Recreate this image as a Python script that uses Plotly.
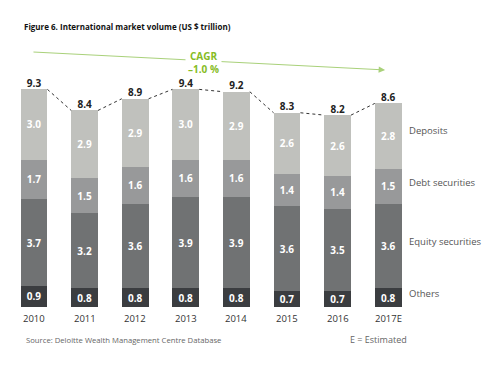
import plotly.graph_objects as go

years = ["2010", "2011", "2012", "2013", "2014", "2015", "2016", "2017E"]
others = [0.9, 0.8, 0.8, 0.8, 0.8, 0.7, 0.7, 0.8]
equity = [3.7, 3.2, 3.6, 3.9, 3.9, 3.6, 3.5, 3.6]
debt = [1.7, 1.5, 1.6, 1.6, 1.6, 1.4, 1.4, 1.5]
deposits = [3.0, 2.9, 2.9, 3.0, 2.9, 2.6, 2.6, 2.8]
totals = [9.3, 8.4, 8.9, 9.4, 9.2, 8.3, 8.2, 8.6]
series_names = ["Others", "Equity securities", "Debt securities", "Deposits"]
series_colors = ["#3b3d40", "#707273", "#98999a", "#c0c1bd"]

FONT = "Open Sans"
xs = list(range(len(years)))
BW = 0.53
W, H = 500, 366
OFF = 8  # page body margin shift


def px(x):
    return (x - OFF) / W


def py(y):
    return 1 - (y - OFF) / H


fig = go.Figure()
for name, vals, col in zip(series_names, [others, equity, debt, deposits], series_colors):
    fig.add_trace(go.Bar(
        x=xs, y=vals, name=name, marker=dict(color=col, line=dict(width=0)),
        width=BW, text=[f"{v:.1f}" for v in vals], textposition="inside",
        insidetextanchor="middle", constraintext="none", textangle=0,
        textfont=dict(color="white", size=10, family=FONT, weight="bold"),
        hoverinfo="skip", showlegend=False))

tops = [a + b + c + d for a, b, c, d in zip(others, equity, debt, deposits)]

# dotted connectors between bar tops
for i in range(len(xs) - 1):
    fig.add_trace(go.Scatter(
        x=[xs[i] + BW / 2, xs[i + 1] - BW / 2], y=[tops[i], tops[i + 1]],
        mode="lines", line=dict(color="#333333", width=1, dash="dot"),
        hoverinfo="skip", showlegend=False))

# total labels
fig.add_trace(go.Scatter(
    x=xs, y=tops, mode="text", text=[f"{t:.1f}" for t in totals],
    textposition="top center",
    textfont=dict(color="#222222", size=10, family=FONT, weight="bold"),
    hoverinfo="skip", showlegend=False))

annotations = []
# year labels
for x, yr in zip(xs, years):
    annotations.append(dict(x=x, y=-0.12, xref="x", yref="y", text=yr, showarrow=False,
                            yanchor="top", font=dict(size=9.5, color="#333333", family=FONT)))

# right-side series labels at segment mid-heights of last bar
last = len(xs) - 1
cum = 0
mids = []
for vals in [others, equity, debt, deposits]:
    mids.append(cum + vals[last] / 2)
    cum += vals[last]
label_offsets = [0.16, 0.22, 0.19, 0.26]
for name, m, off in zip(series_names, mids, label_offsets):
    annotations.append(dict(x=last + 0.38, y=m + off, xref="x", yref="y", text=name,
                            showarrow=False, xanchor="left",
                            font=dict(size=9.5, color="#555555", family=FONT)))

# CAGR arrow
annotations.append(dict(x=6.94, y=10.13, ax=-0.04, ay=10.9, xref="x", yref="y",
                        axref="x", ayref="y", text="", showarrow=True,
                        arrowhead=2, arrowsize=1.3, arrowwidth=1, arrowcolor="#a9d17a"))
annotations.append(dict(x=3.34, y=10.45, xref="x", yref="y",
                        text="<b>CAGR</b><br><b>\u20131.0 %</b>", showarrow=False,
                        bgcolor="white", borderpad=2,
                        font=dict(size=10, color="#86bc25", family=FONT)))

fig.update_layout(annotations=annotations)

fig.add_annotation(text="<b>Figure 6. International market volume (US $ trillion)</b>",
                   xref="paper", yref="paper", x=px(22), y=py(27),
                   xanchor="left", yanchor="middle", showarrow=False,
                   font=dict(size=8, color="#111111", family=FONT))
fig.add_annotation(text="Source: Deloitte Wealth Management Centre Database",
                   xref="paper", yref="paper", x=px(24), y=py(340),
                   xanchor="left", yanchor="middle", showarrow=False,
                   font=dict(size=7.7, color="#666666", family=FONT))
fig.add_annotation(text="E = Estimated",
                   xref="paper", yref="paper", x=px(348), y=py(339),
                   xanchor="left", yanchor="middle", showarrow=False,
                   font=dict(size=9, color="#666666", family=FONT))

# axis ranges: screen x = 34 + 50.6*x, screen y = 307 - 23.4*y (page shifted by OFF)
x0 = -(34 - OFF) / 50.6
x1 = (W + OFF - 34) / 50.6
y1 = (307 - OFF) / 23.4
y0 = (307 - OFF - H) / 23.4

fig.update_layout(
    width=W, height=H, barmode="stack",
    margin=dict(l=0, r=0, t=0, b=0),
    paper_bgcolor="white", plot_bgcolor="white",
    xaxis=dict(range=[x0, x1], visible=False, fixedrange=True),
    yaxis=dict(range=[y0, y1], visible=False, fixedrange=True),
    font=dict(family=FONT),
)
fig.write_html("out.html")
